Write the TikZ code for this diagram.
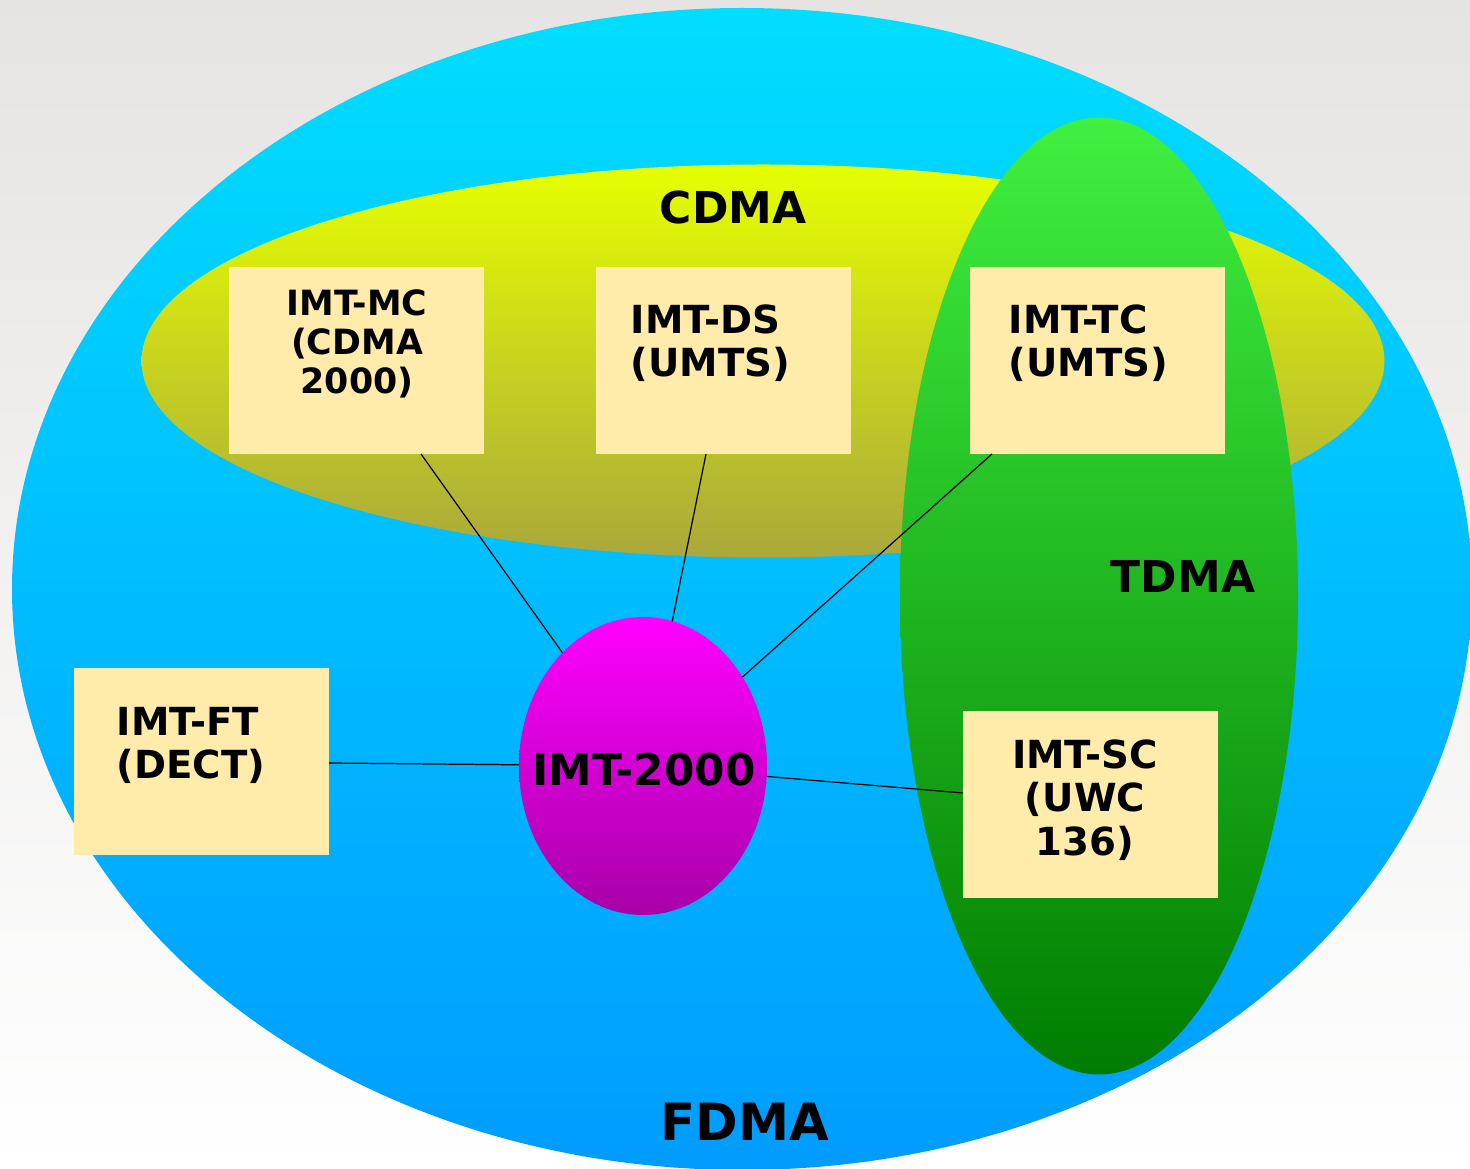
\documentclass[tikz,border=0pt]{standalone}
\usepackage{fontspec}
\setmainfont{DejaVu Sans}
\usetikzlibrary{shapes.geometric}
\definecolor{bgtop}{RGB}{230,228,226}
\definecolor{ftop}{RGB}{0,222,255}
\definecolor{fbot}{RGB}{0,156,255}
\definecolor{ctop}{RGB}{230,255,0}
\definecolor{cbot}{RGB}{170,168,60}
\definecolor{ttop}{RGB}{64,240,64}
\definecolor{tbot}{RGB}{0,124,0}
\definecolor{itop}{RGB}{255,0,255}
\definecolor{ibot}{RGB}{168,0,168}
\definecolor{boxfill}{RGB}{255,236,170}
\tikzset{
  zone/.style={ellipse, inner sep=0pt, outer sep=0pt},
  imtbox/.style={rectangle, fill=boxfill, inner sep=0pt, outer sep=0pt, minimum width=25.5mm, minimum height=18.7mm},
  boxtext/.style={font=\bfseries\fontsize{11pt}{12.3pt}\selectfont, inner sep=0pt},
  zonelabel/.style={font=\bfseries\fontsize{12.5pt}{15pt}\selectfont, inner sep=0pt},
  link/.style={draw=black, line width=0.35pt}
}
\begin{document}
\begin{tikzpicture}[x=0.1mm,y=-0.1mm]
\useasboundingbox (0,0) rectangle (1470,1169);
\clip (0,0) rectangle (1470,1169);
\shade[top color=bgtop, bottom color=white] (0,0) rectangle (1470,1169);
% zones
\node[zone, minimum width=146mm, minimum height=116.2mm, top color=ftop, bottom color=fbot] (fdma) at (742,589) {};
\node[zone, minimum width=124.3mm, minimum height=39.3mm, top color=ctop, bottom color=cbot] (cdma) at (763,361) {};
\node[zone, minimum width=39.8mm, minimum height=95.7mm, top color=ttop, bottom color=tbot] (tdma) at (1099,596) {};
% boxes
\node[imtbox] (mc) at (356.5,360.5) {};
\node[imtbox] (ds) at (723.5,360.5) {};
\node[imtbox] (tc) at (1097.5,360.5) {};
\node[imtbox] (ft) at (201.5,761.5) {};
\node[imtbox] (sc) at (1090.5,804.5) {};
% centre
\node[zone, minimum width=24.8mm, minimum height=29.8mm, top color=itop, bottom color=ibot] (imt) at (643,766) {};
% box texts
\node[boxtext, font=\bfseries\fontsize{9.9pt}{11.1pt}\selectfont, align=center] (mct) at (357,344) {IMT-MC\\(CDMA\\2000)};
\node[boxtext, align=left, anchor=west] (dst) at (630,343) {IMT-DS\\(UMTS)};
\node[boxtext, align=left, anchor=west] (tct) at (1008,343) {IMT-TC\\(UMTS)};
\node[boxtext, align=left, anchor=west] (ftt) at (116,745.5) {IMT-FT\\(DECT)};
\node[boxtext, align=center] (sct) at (1085,800) {IMT-SC\\(UWC\\136)};
% zone labels
\node[zonelabel] (cdmal) at (733,208) {CDMA};
\node[zonelabel] (tdmal) at (1183,576) {TDMA};
\node[zonelabel, font=\bfseries\fontsize{14.6pt}{17pt}\selectfont] (fdmal) at (745,1122) {FDMA};
\node[zonelabel, font=\bfseries\fontsize{12.45pt}{14pt}\selectfont] (imtl) at (644,770) {IMT-2000};
% links
\draw[link] ([xshift=6.45mm]mc.south) -- (imt);
\draw[link] ([xshift=-1.75mm]ds.south) -- (imt);
\draw[link] ([xshift=-10.55mm]tc.south) -- (imt);
\draw[link] ([yshift=-0.15mm]ft.east) -- (imt);
\draw[link] ([yshift=1.15mm]sc.west) -- (imt);
\end{tikzpicture}
\end{document}
